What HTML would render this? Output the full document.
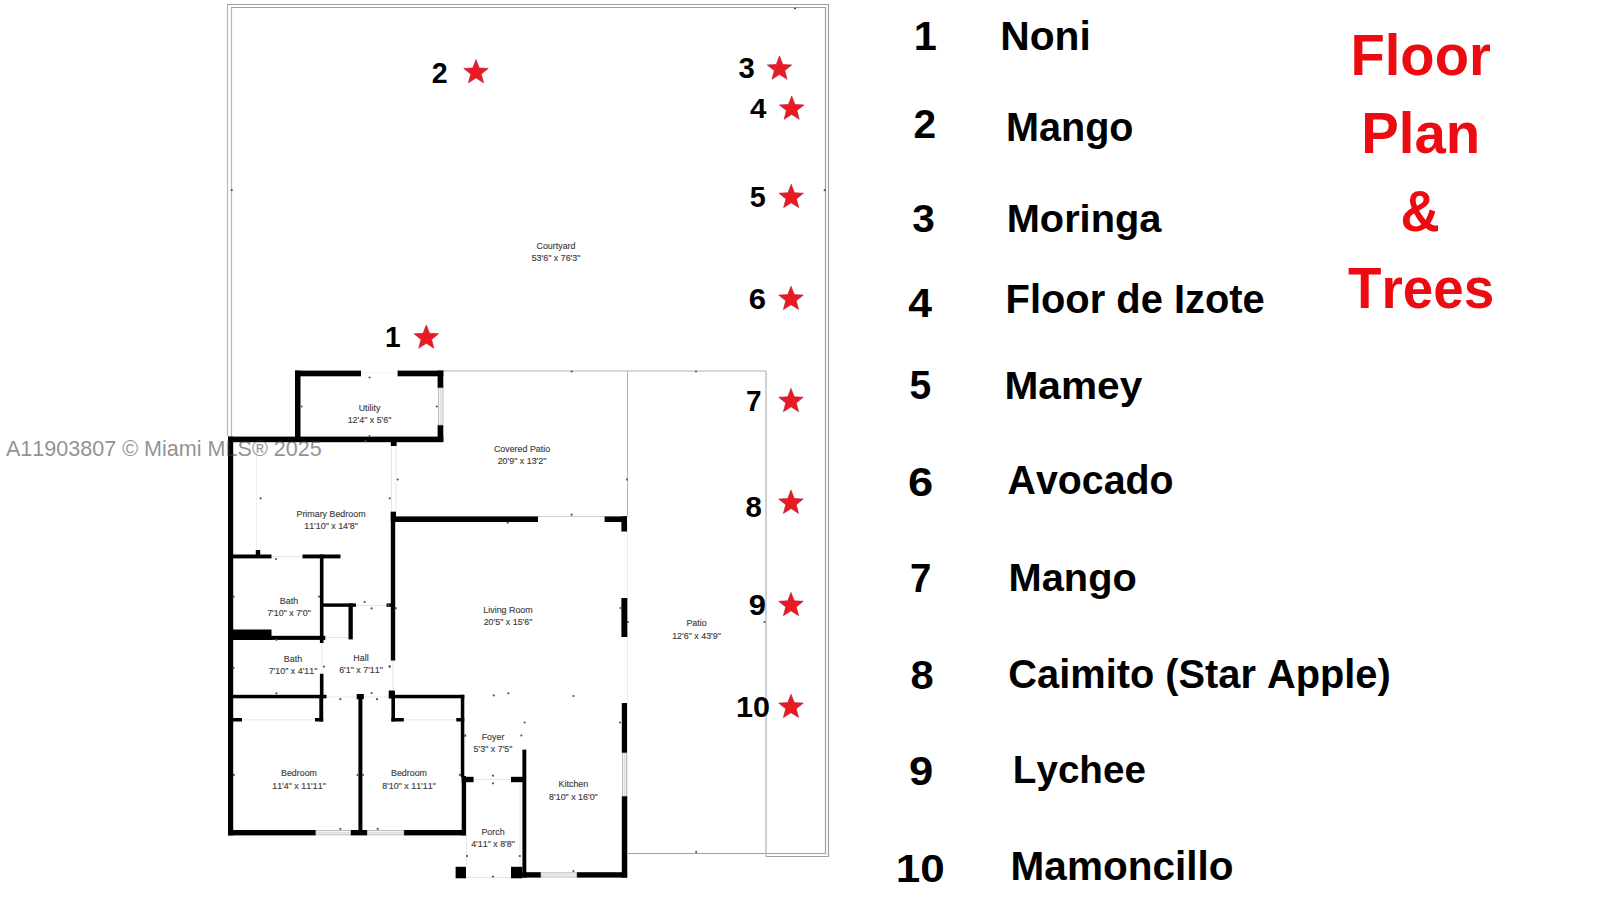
<!DOCTYPE html><html><head><meta charset="utf-8"><title>Floor Plan &amp; Trees</title><style>
html,body{margin:0;padding:0;background:#fff;width:1600px;height:899px;overflow:hidden;}
svg{display:block;font-family:"Liberation Sans",sans-serif;font-kerning:none;}
text{font-kerning:none;}
.wm{position:absolute;left:0;top:0;font-family:"Liberation Sans",sans-serif;}
</style></head><body>
<svg width="1600" height="899" viewBox="0 0 1600 899">
<rect x="0" y="0" width="1600" height="899" fill="#fff"/>
<line x1="227.5" y1="436" x2="227.5" y2="5" stroke="#b8b8b8" stroke-width="1.2"/>
<polyline points="227,4.5 828.5,4.5 828.5,856.5 766,856.5" fill="none" stroke="#a0a0a0" stroke-width="1.2"/>
<line x1="231.5" y1="436" x2="231.5" y2="8" stroke="#b8b8b8" stroke-width="1.2"/>
<polyline points="231,7.5 825.5,7.5 825.5,853.5 627,853.5" fill="none" stroke="#a0a0a0" stroke-width="1.2"/>
<line x1="443" y1="371" x2="766" y2="371" stroke="#b4b4b4" stroke-width="1.1"/>
<line x1="627.5" y1="371" x2="627.5" y2="517" stroke="#b4b4b4" stroke-width="1"/>
<line x1="627.5" y1="522" x2="627.5" y2="872" stroke="#ececec" stroke-width="1"/>
<line x1="766" y1="371" x2="766" y2="856.5" stroke="#bdbdbd" stroke-width="1.4"/>
<line x1="391.5" y1="446" x2="391.5" y2="512" stroke="#e6e6e6" stroke-width="1"/>
<line x1="396" y1="446" x2="396" y2="512" stroke="#e6e6e6" stroke-width="1"/>
<line x1="538" y1="516.5" x2="604.5" y2="516.5" stroke="#cfcfcf" stroke-width="1"/>
<line x1="256.5" y1="441" x2="256.5" y2="550" stroke="#f1f1f1" stroke-width="1"/>
<line x1="361" y1="373" x2="398" y2="373" stroke="#f3f3f3" stroke-width="1"/>
<line x1="271.5" y1="556.5" x2="302.5" y2="556.5" stroke="#e6e6e6" stroke-width="1"/>
<line x1="326.5" y1="697" x2="356.7" y2="697" stroke="#e6e6e6" stroke-width="1"/>
<line x1="363.8" y1="697" x2="388.7" y2="697" stroke="#e6e6e6" stroke-width="1"/>
<line x1="242" y1="719.8" x2="315" y2="719.8" stroke="#e6e6e6" stroke-width="1"/>
<line x1="403.8" y1="719.8" x2="456.3" y2="719.8" stroke="#e6e6e6" stroke-width="1"/>
<line x1="473.6" y1="779.5" x2="511" y2="779.5" stroke="#e6e6e6" stroke-width="1"/>
<line x1="466.5" y1="782" x2="466.5" y2="867" stroke="#e6e6e6" stroke-width="1"/>
<line x1="520" y1="782" x2="520" y2="867" stroke="#e6e6e6" stroke-width="1"/>
<line x1="466" y1="877.5" x2="511" y2="877.5" stroke="#e6e6e6" stroke-width="1"/>
<line x1="356" y1="605.5" x2="386.5" y2="605.5" stroke="#e6e6e6" stroke-width="1"/>
<line x1="323.5" y1="637.5" x2="348.5" y2="637.5" stroke="#e6e6e6" stroke-width="1"/>
<line x1="322" y1="643" x2="322" y2="673.8" stroke="#e6e6e6" stroke-width="1"/>
<line x1="393" y1="660.5" x2="393" y2="691" stroke="#e6e6e6" stroke-width="1"/>
<rect x="295" y="370.6" width="66.00" height="5.70" fill="#000"/>
<rect x="397.6" y="370.6" width="45.70" height="5.70" fill="#000"/>
<rect x="295" y="370.6" width="5.50" height="71.40" fill="#000"/>
<rect x="437.6" y="370.6" width="5.70" height="17.40" fill="#000"/>
<rect x="437.6" y="425" width="5.70" height="17.00" fill="#000"/>
<rect x="228" y="436.6" width="215.30" height="5.60" fill="#000"/>
<rect x="228" y="436.6" width="5.20" height="398.80" fill="#000"/>
<rect x="390.8" y="442" width="5.80" height="4.00" fill="#000"/>
<rect x="390.8" y="511.8" width="5.20" height="10.20" fill="#000"/>
<rect x="390.8" y="511.8" width="4.40" height="148.70" fill="#000"/>
<rect x="395" y="516.4" width="143.00" height="5.60" fill="#000"/>
<rect x="604.6" y="516.4" width="22.40" height="5.60" fill="#000"/>
<rect x="621.4" y="516.4" width="5.60" height="15.10" fill="#000"/>
<rect x="621.4" y="598" width="5.90" height="39.00" fill="#000"/>
<rect x="621.8" y="703" width="5.20" height="50.00" fill="#000"/>
<rect x="621.8" y="796" width="5.40" height="81.60" fill="#000"/>
<rect x="522.4" y="872.2" width="18.60" height="5.40" fill="#000"/>
<rect x="576.7" y="872.2" width="50.50" height="5.40" fill="#000"/>
<rect x="522.4" y="749.6" width="3.90" height="128.00" fill="#000"/>
<rect x="455.6" y="866.8" width="10.40" height="11.50" fill="#000"/>
<rect x="511" y="866.8" width="11.40" height="11.50" fill="#000"/>
<rect x="461.7" y="776.8" width="11.90" height="5.40" fill="#000"/>
<rect x="511" y="776.8" width="12.50" height="5.40" fill="#000"/>
<rect x="460.8" y="694.8" width="3.50" height="82.20" fill="#000"/>
<rect x="461.7" y="776" width="4.30" height="59.40" fill="#000"/>
<rect x="233" y="554.5" width="38.50" height="3.90" fill="#000"/>
<rect x="302.5" y="554.5" width="38.00" height="3.90" fill="#000"/>
<rect x="255.8" y="550" width="4.40" height="5.00" fill="#000"/>
<rect x="319.9" y="554.5" width="3.60" height="88.50" fill="#000"/>
<rect x="319.9" y="673.8" width="3.60" height="24.50" fill="#000"/>
<rect x="323" y="603.4" width="33.00" height="3.40" fill="#000"/>
<rect x="348.5" y="603.4" width="4.30" height="36.00" fill="#000"/>
<rect x="386.5" y="603.4" width="4.50" height="3.40" fill="#000"/>
<rect x="233" y="629.5" width="38.50" height="10.50" fill="#000"/>
<rect x="271" y="635.8" width="54.30" height="4.10" fill="#000"/>
<rect x="390.8" y="691" width="4.20" height="7.30" fill="#000"/>
<rect x="228" y="694.8" width="98.50" height="3.50" fill="#000"/>
<rect x="319.3" y="694.8" width="3.90" height="26.70" fill="#000"/>
<rect x="233" y="718" width="9.00" height="3.50" fill="#000"/>
<rect x="315" y="718" width="8.20" height="3.50" fill="#000"/>
<rect x="358.4" y="694.8" width="4.00" height="137.20" fill="#000"/>
<rect x="356.7" y="694" width="7.10" height="5.20" fill="#000"/>
<rect x="388.7" y="690.5" width="5.70" height="7.80" fill="#000"/>
<rect x="389" y="694.8" width="75.30" height="3.50" fill="#000"/>
<rect x="391.4" y="698" width="3.60" height="23.50" fill="#000"/>
<rect x="391.4" y="718" width="12.40" height="3.50" fill="#000"/>
<rect x="456.3" y="718" width="8.00" height="3.50" fill="#000"/>
<rect x="228" y="830" width="87.80" height="5.40" fill="#000"/>
<rect x="350.4" y="830" width="16.90" height="5.40" fill="#000"/>
<rect x="403.8" y="830" width="62.20" height="5.40" fill="#000"/>
<rect x="438.6" y="388" width="4.40" height="37.00" fill="#f4f4f4" stroke="#b0b0b0" stroke-width="0.8"/>
<line x1="440.8" y1="388" x2="440.8" y2="425" stroke="#c8c8c8" stroke-width="0.6"/>
<rect x="622.5" y="753" width="4.00" height="43.00" fill="#f4f4f4" stroke="#b0b0b0" stroke-width="0.8"/>
<line x1="624.5" y1="753" x2="624.5" y2="796" stroke="#c8c8c8" stroke-width="0.6"/>
<rect x="541" y="872.8" width="35.70" height="4.20" fill="#f4f4f4" stroke="#b0b0b0" stroke-width="0.8"/>
<line x1="541" y1="874.9" x2="576.7" y2="874.9" stroke="#c8c8c8" stroke-width="0.6"/>
<rect x="316" y="830.6" width="34.40" height="4.20" fill="#f4f4f4" stroke="#b0b0b0" stroke-width="0.8"/>
<line x1="316" y1="832.7" x2="350.4" y2="832.7" stroke="#c8c8c8" stroke-width="0.6"/>
<rect x="367.3" y="830.6" width="36.50" height="4.20" fill="#f4f4f4" stroke="#b0b0b0" stroke-width="0.8"/>
<line x1="367.3" y1="832.7" x2="403.8" y2="832.7" stroke="#c8c8c8" stroke-width="0.6"/>
<circle cx="571.7" cy="371.5" r="1.1" fill="#555"/>
<circle cx="696" cy="371.5" r="1.1" fill="#555"/>
<circle cx="627" cy="479.6" r="1.1" fill="#555"/>
<circle cx="571.7" cy="514.7" r="1.1" fill="#555"/>
<circle cx="696.2" cy="851.8" r="1.1" fill="#555"/>
<circle cx="764.5" cy="622" r="1.1" fill="#555"/>
<circle cx="231.7" cy="190.2" r="1.1" fill="#555"/>
<circle cx="824.7" cy="190.2" r="1.1" fill="#555"/>
<circle cx="795" cy="8.5" r="1.1" fill="#555"/>
<circle cx="369.5" cy="377.5" r="1.1" fill="#555"/>
<circle cx="301.5" cy="406.5" r="1.1" fill="#555"/>
<circle cx="436.8" cy="406.5" r="1.1" fill="#555"/>
<circle cx="369.5" cy="436" r="1.1" fill="#555"/>
<circle cx="365.4" cy="441.3" r="1.1" fill="#555"/>
<circle cx="260.6" cy="498.3" r="1.1" fill="#555"/>
<circle cx="389.7" cy="498.3" r="1.1" fill="#555"/>
<circle cx="397.7" cy="479.5" r="1.1" fill="#555"/>
<circle cx="276" cy="559" r="1.1" fill="#555"/>
<circle cx="233.6" cy="596.7" r="1.1" fill="#555"/>
<circle cx="319" cy="596.7" r="1.1" fill="#555"/>
<circle cx="364.7" cy="602" r="1.1" fill="#555"/>
<circle cx="371.6" cy="608.4" r="1.1" fill="#555"/>
<circle cx="395.7" cy="608.4" r="1.1" fill="#555"/>
<circle cx="276.4" cy="639.8" r="1.1" fill="#555"/>
<circle cx="233.6" cy="667.8" r="1.1" fill="#555"/>
<circle cx="324" cy="666.6" r="1.1" fill="#555"/>
<circle cx="389.7" cy="666.6" r="1.1" fill="#555"/>
<circle cx="276.4" cy="693.3" r="1.1" fill="#555"/>
<circle cx="371.6" cy="693" r="1.1" fill="#555"/>
<circle cx="340.3" cy="699.2" r="1.1" fill="#555"/>
<circle cx="377.1" cy="699.2" r="1.1" fill="#555"/>
<circle cx="233.9" cy="774.9" r="1.1" fill="#555"/>
<circle cx="357.6" cy="774.9" r="1.1" fill="#555"/>
<circle cx="362.9" cy="774.9" r="1.1" fill="#555"/>
<circle cx="459.9" cy="774.9" r="1.1" fill="#555"/>
<circle cx="465.2" cy="735.7" r="1.1" fill="#555"/>
<circle cx="340.3" cy="828.8" r="1.1" fill="#555"/>
<circle cx="377.7" cy="828.8" r="1.1" fill="#555"/>
<circle cx="493.8" cy="695.4" r="1.1" fill="#555"/>
<circle cx="508.3" cy="693.3" r="1.1" fill="#555"/>
<circle cx="573.4" cy="696" r="1.1" fill="#555"/>
<circle cx="524.6" cy="722.5" r="1.1" fill="#555"/>
<circle cx="521.3" cy="735.5" r="1.1" fill="#555"/>
<circle cx="465" cy="735.5" r="1.1" fill="#555"/>
<circle cx="620" cy="722.5" r="1.1" fill="#555"/>
<circle cx="493" cy="775.7" r="1.1" fill="#555"/>
<circle cx="493" cy="783.3" r="1.1" fill="#555"/>
<circle cx="467.1" cy="856" r="1.1" fill="#555"/>
<circle cx="519.8" cy="856" r="1.1" fill="#555"/>
<circle cx="493" cy="876.5" r="1.1" fill="#555"/>
<circle cx="573.4" cy="871.1" r="1.1" fill="#555"/>
<circle cx="507.7" cy="522.7" r="1.1" fill="#555"/>
<circle cx="388.5" cy="605" r="1.1" fill="#555"/>
<circle cx="395.5" cy="608" r="1.1" fill="#555"/>
<circle cx="620.5" cy="608" r="1.1" fill="#555"/>
<circle cx="628" cy="622" r="1.1" fill="#555"/>
<circle cx="389.7" cy="666.4" r="1.1" fill="#555"/>
<text transform="translate(556,249.27) scale(0.935,1)" text-anchor="middle" font-size="9.5" fill="#3c3c3c" stroke="#3c3c3c" stroke-width="0.15">Courtyard</text>
<text transform="translate(556,261.27) scale(0.935,1)" text-anchor="middle" font-size="9.5" fill="#3c3c3c" stroke="#3c3c3c" stroke-width="0.15">53'6&quot; x 76'3&quot;</text>
<text transform="translate(369.5,411.27) scale(0.935,1)" text-anchor="middle" font-size="9.5" fill="#3c3c3c" stroke="#3c3c3c" stroke-width="0.15">Utility</text>
<text transform="translate(369.5,422.77) scale(0.935,1)" text-anchor="middle" font-size="9.5" fill="#3c3c3c" stroke="#3c3c3c" stroke-width="0.15">12'4&quot; x 5'6&quot;</text>
<text transform="translate(522,452.27) scale(0.935,1)" text-anchor="middle" font-size="9.5" fill="#3c3c3c" stroke="#3c3c3c" stroke-width="0.15">Covered Patio</text>
<text transform="translate(522,464.27) scale(0.935,1)" text-anchor="middle" font-size="9.5" fill="#3c3c3c" stroke="#3c3c3c" stroke-width="0.15">20'9&quot; x 13'2&quot;</text>
<text transform="translate(331,516.77) scale(0.935,1)" text-anchor="middle" font-size="9.5" fill="#3c3c3c" stroke="#3c3c3c" stroke-width="0.15">Primary Bedroom</text>
<text transform="translate(331,528.77) scale(0.935,1)" text-anchor="middle" font-size="9.5" fill="#3c3c3c" stroke="#3c3c3c" stroke-width="0.15">11'10&quot; x 14'8&quot;</text>
<text transform="translate(289,604.27) scale(0.935,1)" text-anchor="middle" font-size="9.5" fill="#3c3c3c" stroke="#3c3c3c" stroke-width="0.15">Bath</text>
<text transform="translate(289,616.27) scale(0.935,1)" text-anchor="middle" font-size="9.5" fill="#3c3c3c" stroke="#3c3c3c" stroke-width="0.15">7'10&quot; x 7'0&quot;</text>
<text transform="translate(508,613.27) scale(0.935,1)" text-anchor="middle" font-size="9.5" fill="#3c3c3c" stroke="#3c3c3c" stroke-width="0.15">Living Room</text>
<text transform="translate(508,625.27) scale(0.935,1)" text-anchor="middle" font-size="9.5" fill="#3c3c3c" stroke="#3c3c3c" stroke-width="0.15">20'5&quot; x 15'6&quot;</text>
<text transform="translate(696.5,626.47) scale(0.935,1)" text-anchor="middle" font-size="9.5" fill="#3c3c3c" stroke="#3c3c3c" stroke-width="0.15">Patio</text>
<text transform="translate(696.5,639.07) scale(0.935,1)" text-anchor="middle" font-size="9.5" fill="#3c3c3c" stroke="#3c3c3c" stroke-width="0.15">12'6&quot; x 43'9&quot;</text>
<text transform="translate(293,662.27) scale(0.935,1)" text-anchor="middle" font-size="9.5" fill="#3c3c3c" stroke="#3c3c3c" stroke-width="0.15">Bath</text>
<text transform="translate(293,673.77) scale(0.935,1)" text-anchor="middle" font-size="9.5" fill="#3c3c3c" stroke="#3c3c3c" stroke-width="0.15">7'10&quot; x 4'11&quot;</text>
<text transform="translate(361,661.27) scale(0.935,1)" text-anchor="middle" font-size="9.5" fill="#3c3c3c" stroke="#3c3c3c" stroke-width="0.15">Hall</text>
<text transform="translate(361,672.77) scale(0.935,1)" text-anchor="middle" font-size="9.5" fill="#3c3c3c" stroke="#3c3c3c" stroke-width="0.15">6'1&quot; x 7'11&quot;</text>
<text transform="translate(493,740.27) scale(0.935,1)" text-anchor="middle" font-size="9.5" fill="#3c3c3c" stroke="#3c3c3c" stroke-width="0.15">Foyer</text>
<text transform="translate(493,752.27) scale(0.935,1)" text-anchor="middle" font-size="9.5" fill="#3c3c3c" stroke="#3c3c3c" stroke-width="0.15">5'3&quot; x 7'5&quot;</text>
<text transform="translate(299,776.27) scale(0.935,1)" text-anchor="middle" font-size="9.5" fill="#3c3c3c" stroke="#3c3c3c" stroke-width="0.15">Bedroom</text>
<text transform="translate(299,788.77) scale(0.935,1)" text-anchor="middle" font-size="9.5" fill="#3c3c3c" stroke="#3c3c3c" stroke-width="0.15">11'4&quot; x 11'11&quot;</text>
<text transform="translate(409,776.27) scale(0.935,1)" text-anchor="middle" font-size="9.5" fill="#3c3c3c" stroke="#3c3c3c" stroke-width="0.15">Bedroom</text>
<text transform="translate(409,788.77) scale(0.935,1)" text-anchor="middle" font-size="9.5" fill="#3c3c3c" stroke="#3c3c3c" stroke-width="0.15">8'10&quot; x 11'11&quot;</text>
<text transform="translate(573.4,786.57) scale(0.935,1)" text-anchor="middle" font-size="9.5" fill="#3c3c3c" stroke="#3c3c3c" stroke-width="0.15">Kitchen</text>
<text transform="translate(573.4,799.57) scale(0.935,1)" text-anchor="middle" font-size="9.5" fill="#3c3c3c" stroke="#3c3c3c" stroke-width="0.15">8'10&quot; x 16'0&quot;</text>
<text transform="translate(493,834.67) scale(0.935,1)" text-anchor="middle" font-size="9.5" fill="#3c3c3c" stroke="#3c3c3c" stroke-width="0.15">Porch</text>
<text transform="translate(493,847.27) scale(0.935,1)" text-anchor="middle" font-size="9.5" fill="#3c3c3c" stroke="#3c3c3c" stroke-width="0.15">4'11&quot; x 8'8&quot;</text>
<polygon points="426.30,324.90 429.56,333.31 438.57,333.81 431.58,339.51 433.88,348.24 426.30,343.35 418.72,348.24 421.02,339.51 414.03,333.81 423.04,333.31" fill="#e91a22" stroke="#b51c30" stroke-width="0.6" stroke-linejoin="miter"/>
<polygon points="476.00,59.50 479.26,67.91 488.27,68.41 481.28,74.11 483.58,82.84 476.00,77.95 468.42,82.84 470.72,74.11 463.73,68.41 472.74,67.91" fill="#e91a22" stroke="#b51c30" stroke-width="0.6" stroke-linejoin="miter"/>
<polygon points="779.50,56.00 782.76,64.41 791.77,64.91 784.78,70.61 787.08,79.34 779.50,74.45 771.92,79.34 774.22,70.61 767.23,64.91 776.24,64.41" fill="#e91a22" stroke="#b51c30" stroke-width="0.6" stroke-linejoin="miter"/>
<polygon points="791.70,96.00 794.96,104.41 803.97,104.91 796.98,110.61 799.28,119.34 791.70,114.45 784.12,119.34 786.42,110.61 779.43,104.91 788.44,104.41" fill="#e91a22" stroke="#b51c30" stroke-width="0.6" stroke-linejoin="miter"/>
<polygon points="791.20,184.30 794.46,192.71 803.47,193.21 796.48,198.91 798.78,207.64 791.20,202.75 783.62,207.64 785.92,198.91 778.93,193.21 787.94,192.71" fill="#e91a22" stroke="#b51c30" stroke-width="0.6" stroke-linejoin="miter"/>
<polygon points="791.00,286.20 794.26,294.61 803.27,295.11 796.28,300.81 798.58,309.54 791.00,304.65 783.42,309.54 785.72,300.81 778.73,295.11 787.74,294.61" fill="#e91a22" stroke="#b51c30" stroke-width="0.6" stroke-linejoin="miter"/>
<polygon points="791.00,388.40 794.26,396.81 803.27,397.31 796.28,403.01 798.58,411.74 791.00,406.85 783.42,411.74 785.72,403.01 778.73,397.31 787.74,396.81" fill="#e91a22" stroke="#b51c30" stroke-width="0.6" stroke-linejoin="miter"/>
<polygon points="791.00,490.10 794.26,498.51 803.27,499.01 796.28,504.71 798.58,513.44 791.00,508.55 783.42,513.44 785.72,504.71 778.73,499.01 787.74,498.51" fill="#e91a22" stroke="#b51c30" stroke-width="0.6" stroke-linejoin="miter"/>
<polygon points="791.00,592.40 794.26,600.81 803.27,601.31 796.28,607.01 798.58,615.74 791.00,610.85 783.42,615.74 785.72,607.01 778.73,601.31 787.74,600.81" fill="#e91a22" stroke="#b51c30" stroke-width="0.6" stroke-linejoin="miter"/>
<polygon points="791.00,694.20 794.26,702.61 803.27,703.11 796.28,708.81 798.58,717.54 791.00,712.65 783.42,717.54 785.72,708.81 778.73,703.11 787.74,702.61" fill="#e91a22" stroke="#b51c30" stroke-width="0.6" stroke-linejoin="miter"/>
<text transform="translate(384.93,346.90) scale(0.9782,1)" font-size="28.78" font-weight="bold" fill="#000">1</text>
<text transform="translate(431.76,82.50) scale(0.9728,1)" font-size="29.36" font-weight="bold" fill="#000">2</text>
<text transform="translate(738.53,78.30) scale(1.0219,1)" font-size="28.64" font-weight="bold" fill="#000">3</text>
<text transform="translate(749.95,117.50) scale(1.0603,1)" font-size="27.91" font-weight="bold" fill="#000">4</text>
<text transform="translate(749.82,207.30) scale(0.9936,1)" font-size="28.92" font-weight="bold" fill="#000">5</text>
<text transform="translate(748.86,309.00) scale(1.0833,1)" font-size="28.64" font-weight="bold" fill="#000">6</text>
<text transform="translate(746.00,411.20) scale(0.9628,1)" font-size="29.00" font-weight="bold" fill="#000">7</text>
<text transform="translate(745.57,516.90) scale(1.0153,1)" font-size="28.93" font-weight="bold" fill="#000">8</text>
<text transform="translate(748.68,615.00) scale(1.0811,1)" font-size="28.64" font-weight="bold" fill="#000">9</text>
<text transform="translate(736.08,716.75) scale(1.0647,1)" font-size="28.64" font-weight="bold" fill="#000">10</text>
<text transform="translate(913.63,50.00) scale(1.0181,1)" font-size="40.84" font-weight="bold" fill="#000">1</text>
<text transform="translate(913.39,138.30) scale(1.0116,1)" font-size="40.24" font-weight="bold" fill="#000">2</text>
<text transform="translate(912.17,232.00) scale(1.0471,1)" font-size="38.81" font-weight="bold" fill="#000">3</text>
<text transform="translate(908.35,317.00) scale(1.0467,1)" font-size="40.84" font-weight="bold" fill="#000">4</text>
<text transform="translate(909.40,399.00) scale(0.9445,1)" font-size="41.28" font-weight="bold" fill="#000">5</text>
<text transform="translate(907.94,496.10) scale(1.0984,1)" font-size="41.25" font-weight="bold" fill="#000">6</text>
<text transform="translate(910.05,592.20) scale(0.9632,1)" font-size="39.83" font-weight="bold" fill="#000">7</text>
<text transform="translate(910.58,689.40) scale(1.0117,1)" font-size="41.25" font-weight="bold" fill="#000">8</text>
<text transform="translate(909.09,784.70) scale(1.0691,1)" font-size="40.75" font-weight="bold" fill="#000">9</text>
<text transform="translate(895.73,881.80) scale(1.1100,1)" font-size="39.67" font-weight="bold" fill="#000">10</text>
<text transform="translate(1000.27,50.00) scale(0.9986,1)" font-size="40.84" font-weight="bold" fill="#000">Noni</text>
<text transform="translate(1005.95,141.40) scale(0.9945,1)" font-size="39.83" font-weight="bold" fill="#000">Mango</text>
<text transform="translate(1006.74,232.00) scale(1.0093,1)" font-size="39.39" font-weight="bold" fill="#000">Moringa</text>
<text transform="translate(1005.53,312.90) scale(0.9941,1)" font-size="40.12" font-weight="bold" fill="#000">Floor de Izote</text>
<text transform="translate(1004.48,398.70) scale(1.0245,1)" font-size="39.68" font-weight="bold" fill="#000">Mamey</text>
<text transform="translate(1007.52,494.40) scale(0.9665,1)" font-size="40.70" font-weight="bold" fill="#000">Avocado</text>
<text transform="translate(1008.59,591.00) scale(1.0044,1)" font-size="39.61" font-weight="bold" fill="#000">Mango</text>
<text transform="translate(1008.37,687.50) scale(0.9869,1)" font-size="40.33" font-weight="bold" fill="#000">Caimito (Star Apple)</text>
<text transform="translate(1012.82,783.00) scale(0.9805,1)" font-size="39.39" font-weight="bold" fill="#000">Lychee</text>
<text transform="translate(1010.59,880.00) scale(1.0142,1)" font-size="39.97" font-weight="bold" fill="#000">Mamoncillo</text>
<text transform="translate(1350.44,75.00) scale(0.9859,1)" font-size="56.98" font-weight="bold" fill="#ec0b10">Floor</text>
<text transform="translate(1361.23,152.50) scale(0.9689,1)" font-size="58.14" font-weight="bold" fill="#ec0b10">Plan</text>
<text transform="translate(1400.62,230.60) scale(0.9399,1)" font-size="57.72" font-weight="bold" fill="#ec0b10">&amp;</text>
<text transform="translate(1347.98,307.70) scale(0.9687,1)" font-size="56.54" font-weight="bold" fill="#ec0b10">Trees</text>
<text opacity="0.55" transform="translate(5.96,455.90) scale(0.9893,1)" font-size="21.80" font-weight="normal" fill="#3a3a3a">A11903807 © Miami MLS® 2025</text>
</svg></body></html>
